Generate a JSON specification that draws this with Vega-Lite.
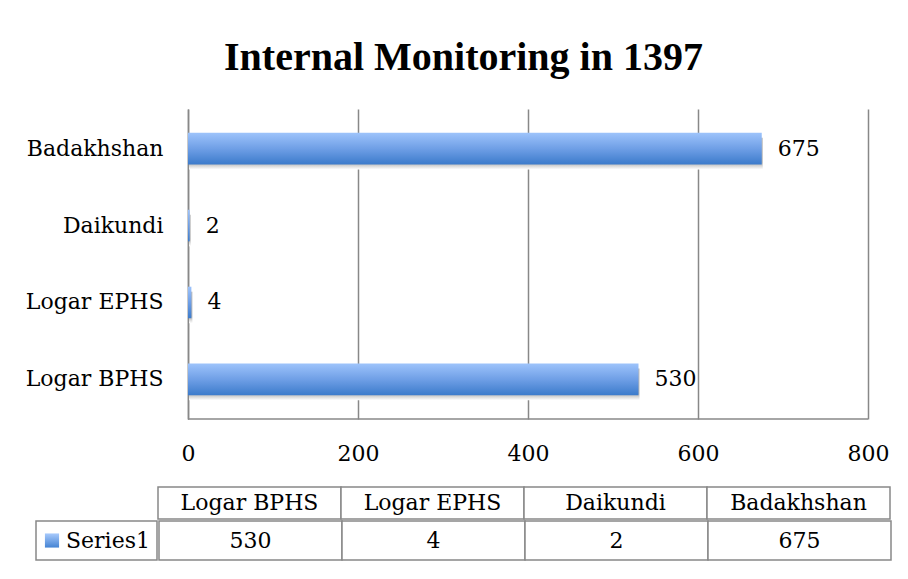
{
  "$schema": "https://vega.github.io/schema/vega-lite/v6.json",
  "padding": {"left": 25, "top": 38, "right": 0, "bottom": 0},
  "background": "white",
  "datasets": {
    "main": [
      {"site": "Logar BPHS", "value": 530},
      {"site": "Logar EPHS", "value": 4},
      {"site": "Daikundi", "value": 2},
      {"site": "Badakhshan", "value": 675}
    ],
    "legend": [{"s": "Series1"}],
    "baseline": [{"from": 0, "to": 800}]
  },
  "title": {
    "text": "Internal Monitoring in 1397",
    "font": "Liberation Serif",
    "fontSize": 40,
    "fontWeight": "bold",
    "color": "#000",
    "anchor": "middle",
    "dx": 5,
    "offset": 31
  },
  "config": {
    "view": {"stroke": null},
    "text": {"font": "DejaVu Serif", "fontSize": 22, "color": "#000"},
    "axis": {"labelFont": "DejaVu Serif", "labelFontSize": 22, "labelColor": "#000"}
  },
  "spacing": 22,
  "vconcat": [
    {
      "width": 832,
      "height": 310,
      "layer": [
        {
          "data": {"name": "baseline"},
          "mark": {"type": "rule", "color": "#888", "strokeWidth": 1.5},
          "encoding": {
            "x": {
              "field": "from",
              "type": "quantitative",
              "scale": {"domain": [-178.8, 800], "nice": false, "zero": false},
              "axis": {
                "title": null,
                "values": [0, 200, 400, 600, 800],
                "ticks": false,
                "domain": false,
                "labelPadding": 24,
                "labelFlush": false,
                "grid": true,
                "gridColor": "#888",
                "gridWidth": 1.5
              }
            },
            "x2": {"field": "to"},
            "y": {"value": "height"}
          }
        },
        {
          "data": {"name": "main"},
          "encoding": {
            "y": {
              "field": "site",
              "type": "nominal",
              "sort": ["Badakhshan", "Daikundi", "Logar EPHS", "Logar BPHS"],
              "scale": {"paddingInner": 0.59, "paddingOuter": 0.31},
              "axis": {
                "title": null,
                "ticks": false,
                "offset": -152,
                "labelPadding": 25,
                "grid": false,
                "domainColor": "#888",
                "domainWidth": 1.5
              }
            },
            "x": {"field": "value", "type": "quantitative"}
          },
          "layer": [
            {
              "mark": {
                "type": "bar",
                "yOffset": 5,
                "xOffset": 1,
                "fill": {
                  "gradient": "linear",
                  "x1": 0, "y1": 0, "x2": 0, "y2": 1,
                  "stops": [
                    {"offset": 0, "color": "#bbbbbb"},
                    {"offset": 0.8, "color": "#b5b5b5"},
                    {"offset": 1, "color": "#ffffff"}
                  ]
                }
              }
            },
            {
              "mark": {
                "type": "bar",
                "fill": {
                  "gradient": "linear",
                  "x1": 0, "y1": 0, "x2": 0, "y2": 1,
                  "stops": [
                    {"offset": 0, "color": "#9dc3fb"},
                    {"offset": 0.5, "color": "#6f9fe6"},
                    {"offset": 1, "color": "#3c7bcb"}
                  ]
                }
              }
            },
            {
              "mark": {"type": "text", "align": "left", "baseline": "middle", "dx": 16},
              "encoding": {"text": {"field": "value", "type": "quantitative"}}
            }
          ]
        }
      ]
    },
    {
      "spacing": 0,
      "vconcat": [
        {
          "spacing": 0,
          "hconcat": [
            {
              "width": 121,
              "height": 32,
              "data": {"name": "legend"},
              "mark": {"type": "text"},
              "encoding": {"text": {"value": ""}}
            },
            {
              "width": 732,
              "height": 32,
              "data": {"name": "main"},
              "encoding": {
                "x": {
                  "field": "site",
                  "type": "nominal",
                  "sort": null,
                  "axis": null,
                  "scale": {"paddingInner": 0, "paddingOuter": 0}
                }
              },
              "layer": [
                {"mark": {"type": "rect", "fill": "white", "stroke": "#888", "strokeWidth": 1.5}},
                {
                  "mark": {"type": "text", "baseline": "middle"},
                  "encoding": {"text": {"field": "site", "type": "nominal"}}
                }
              ]
            }
          ]
        },
        {
          "spacing": 0,
          "hconcat": [
            {
              "width": 121,
              "height": 39,
              "data": {"name": "legend"},
              "encoding": {
                "x": {
                  "field": "s",
                  "type": "nominal",
                  "axis": null,
                  "scale": {"paddingInner": 0, "paddingOuter": 0}
                }
              },
              "layer": [
                {"mark": {"type": "rect", "fill": "white", "stroke": "#888", "strokeWidth": 1.5}},
                {
                  "mark": {
                    "type": "square",
                    "size": 200,
                    "filled": true,
                    "opacity": 1,
                    "xOffset": -44.5,
                    "fill": {
                      "gradient": "linear",
                      "x1": 0, "y1": 0, "x2": 0, "y2": 1,
                      "stops": [
                        {"offset": 0, "color": "#a8cafc"},
                        {"offset": 1, "color": "#4483d3"}
                      ]
                    }
                  }
                },
                {
                  "mark": {"type": "text", "align": "left", "baseline": "middle", "xOffset": -30.5},
                  "encoding": {"text": {"field": "s", "type": "nominal"}}
                }
              ]
            },
            {
              "width": 732,
              "height": 39,
              "data": {"name": "main"},
              "encoding": {
                "x": {
                  "field": "site",
                  "type": "nominal",
                  "sort": null,
                  "axis": null,
                  "scale": {"paddingInner": 0, "paddingOuter": 0}
                }
              },
              "layer": [
                {"mark": {"type": "rect", "fill": "white", "stroke": "#888", "strokeWidth": 1.5}},
                {
                  "mark": {"type": "text", "baseline": "middle"},
                  "encoding": {"text": {"field": "value", "type": "quantitative"}}
                }
              ]
            }
          ]
        }
      ]
    }
  ]
}
